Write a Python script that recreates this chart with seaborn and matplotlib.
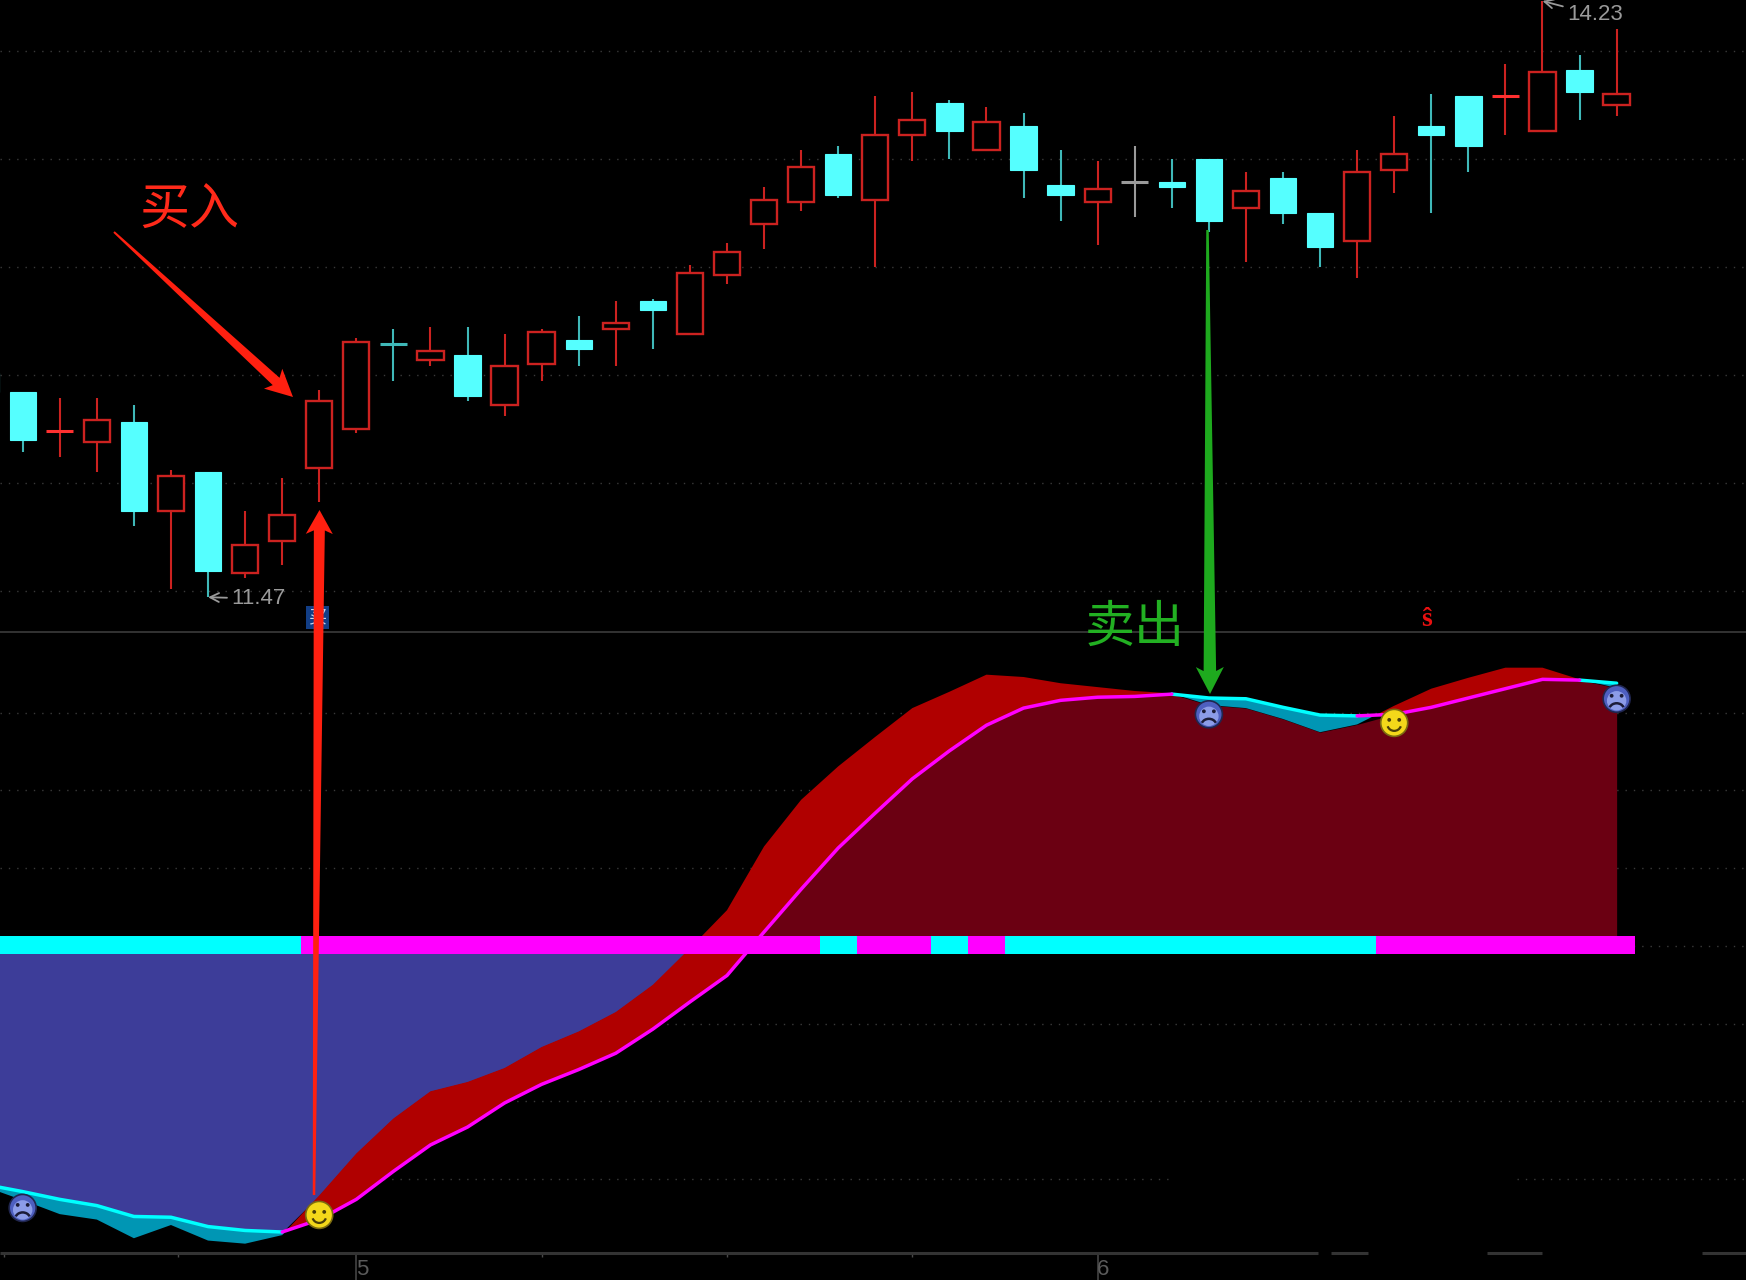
# candlestick chart with a two line indicator panel underneath, black trading software look

import numpy as np
import pandas as pd
import matplotlib
matplotlib.use("Agg")
import matplotlib.pyplot as plt
from matplotlib.patches import Circle, Polygon, Arc
import seaborn as sns

# price data, first candle is the one cut off by the left edge
days = np.arange(-1, 44)
open_p = [12.51, 12.42, 12.24, 12.19, 12.28, 11.87, 12.05, 11.58, 11.73, 12.07, 12.25, 12.64, 12.57, 12.59, 12.36,
          12.55, 12.66, 12.71, 12.84, 12.69, 12.96, 13.20, 13.30, 13.52, 13.31, 13.61, 13.76, 13.54, 13.65, 13.38,
          13.30, 13.39, 13.39, 13.50, 13.27, 13.41, 13.25, 13.12, 13.45, 13.65, 13.79, 13.79, 13.63, 13.91, 13.75]
close_p = [12.42, 12.20, 12.24, 12.29, 11.87, 12.03, 11.59, 11.71, 11.85, 12.38, 12.65, 12.64, 12.61, 12.40, 12.54,
           12.70, 12.62, 12.74, 12.80, 12.97, 13.07, 13.31, 13.46, 13.33, 13.61, 13.68, 13.63, 13.67, 13.45, 13.33,
           13.36, 13.39, 13.37, 13.21, 13.35, 13.25, 13.09, 13.44, 13.52, 13.61, 13.56, 13.79, 13.90, 13.81, 13.80]
high_p = [12.51, 12.42, 12.39, 12.39, 12.36, 12.06, 12.05, 11.87, 12.02, 12.43, 12.67, 12.71, 12.72, 12.72, 12.69,
          12.71, 12.77, 12.84, 12.85, 13.01, 13.11, 13.37, 13.54, 13.56, 13.79, 13.81, 13.77, 13.74, 13.71, 13.54,
          13.49, 13.56, 13.50, 13.50, 13.44, 13.44, 13.25, 13.54, 13.70, 13.80, 13.79, 13.94, 14.23, 13.98, 14.10]
low_p = [12.42, 12.14, 12.12, 12.05, 11.80, 11.51, 11.47, 11.56, 11.62, 11.91, 12.23, 12.47, 12.54, 12.38, 12.31,
         12.47, 12.54, 12.54, 12.62, 12.69, 12.92, 13.08, 13.26, 13.32, 13.00, 13.49, 13.50, 13.54, 13.32, 13.21,
         13.10, 13.23, 13.27, 13.16, 13.02, 13.20, 13.00, 12.95, 13.34, 13.25, 13.44, 13.61, 13.63, 13.68, 13.70]
doji_colors = {1: "red", 10: "cyan", 30: "gray", 40: "red"}
price_grid = [11.5, 12.0, 12.5, 13.0, 13.5, 14.0]

# indicator data
fast_line = [-31.0, -32.7, -34.5, -35.2, -37.6, -35.9, -37.9, -38.3, -37.2, -32.1, -26.7, -22.2, -18.7, -17.5, -15.7,
             -13.0, -11.0, -8.5, -5.0, -0.3, 4.6, 12.8, 18.8, 23.1, 26.9, 30.6, 32.7, 34.9, 34.6, 33.8,
             33.3, 32.8, 32.5, 31.0, 30.6, 29.2, 27.5, 28.5, 30.9, 33.1, 34.5, 35.8, 35.8, 34.3, 33.2]
slow_line = [-30.7, -31.6, -32.6, -33.4, -34.8, -34.9, -36.1, -36.6, -36.8, -35.2, -32.6, -29.0, -25.6, -23.3, -20.2,
             -17.8, -15.9, -13.8, -10.7, -7.2, -3.8, 1.8, 7.3, 12.6, 17.1, 21.5, 25.1, 28.4, 30.6, 31.6,
             32.0, 32.1, 32.4, 31.9, 31.8, 30.7, 29.7, 29.6, 29.8, 30.7, 31.9, 33.1, 34.3, 34.2, 33.8]
indicator_grid = [-30, -20, -10, 0, 10, 20, 30]
strip_states = ("c" * 9) + ("m" * 14) + "c" + "mm" + "c" + "m" + ("c" * 10) + ("m" * 7)
sad_days = [0, 32, 43]
sad_values = [-33.7, 29.8, 31.8]
happy_days = [8, 37]
happy_values = [-34.6, 28.7]

# x axis
minor_ticks = [-0.5, 4.2, 14, 19, 24]
major_ticks = [9, 29]
major_labels = ["5", "6"]

# colours
BG = "#000000"
CANDLE_RED = "#CC2220"
CANDLE_CYAN = "#55FFFF"
WICK_CYAN = "#3FB8B8"
GRAY = "#9A9A9A"
GRID = "#3A3A3A"
RULE = "#333333"
ARROW_RED = "#FF2010"
ARROW_GREEN = "#1EAA1E"

sns.set_theme(style="dark", rc={"figure.facecolor": BG, "axes.facecolor": BG, "savefig.facecolor": BG})
plt.rcParams["font.family"] = ["Noto Sans CJK SC", "DejaVu Sans"]

W, H = 1746, 1280
split_y, axis_y = 632, 1253
fig = plt.figure(figsize=(W / 100, H / 100), dpi=100)
ax_price = fig.add_axes([0, (H - split_y) / H, 1, split_y / H])
ax_ind = fig.add_axes([0, (H - axis_y) / H, 1, (axis_y - split_y) / H])
over = fig.add_axes([0, 0, 1, 1], zorder=10)
over.set_xlim(0, W)
over.set_ylim(H, 0)
over.axis("off")
over.patch.set_alpha(0)

xlim = (-0.612, 46.49)
for ax in (ax_price, ax_ind):
    ax.set_xlim(xlim)
    ax.set_yticks([])
    for s in ax.spines.values():
        s.set_visible(False)
    ax.grid(False)

ax_price.set_ylim(11.309, 14.2347)
ax_ind.set_ylim(-39.5, 40.39)

dots = (0, (1, 5))
ax_price.hlines(price_grid, *xlim, color=GRID, lw=1, linestyles=[dots], zorder=1)

### candles
names = {"red": CANDLE_RED, "cyan": CANDLE_CYAN, "gray": GRAY}
for d, op, cl, hi, lo in zip(days, open_p, close_p, high_p, low_p):
    if cl > op:
        kind = "red"
    elif cl < op:
        kind = "cyan"
    else:
        kind = doji_colors[int(d)]
    wick = WICK_CYAN if kind == "cyan" else names[kind]
    ax_price.vlines(d, lo, hi, color=wick, lw=1.5, zorder=2)
    if kind == "red" and cl > op:
        ax_price.bar(d, cl - op, bottom=op, width=0.71, facecolor=BG, edgecolor=CANDLE_RED, linewidth=1.7, zorder=3)
    elif cl == op:
        ax_price.hlines(op, d - 0.37, d + 0.37, color=("#FF3030" if kind == "red" else wick), lw=2.2, zorder=3)
    else:
        ax_price.bar(d, cl - op, bottom=op, width=0.71, color=CANDLE_CYAN, edgecolor=CANDLE_CYAN, linewidth=0.8, zorder=3)

label_style = dict(color=GRAY, fontsize=16, family="Liberation Sans", va="center", ha="left",
                   arrowprops=dict(arrowstyle="->", color=GRAY, lw=1.3, shrinkA=1, shrinkB=0))
ax_price.annotate(f"{min(low_p):.2f}", xy=(5, min(low_p)), xytext=(17, -1), textcoords="offset points", **label_style)
ax_price.annotate(f"{max(high_p):.2f}", xy=(41, max(high_p)), xytext=(18, -10), textcoords="offset points",
                  annotation_clip=False, **label_style)

### indicator panel
a = np.array(fast_line)
b = np.array(slow_line)
x = days.astype(float)

ax_ind.hlines([v for v in indicator_grid if v != -30], *xlim, color=GRID, lw=1, linestyles=[dots], zorder=1)
ax_ind.hlines([-30, -30], [xlim[0], 40.3], [30.9, xlim[1]], color=GRID, lw=1, linestyles=[dots], zorder=1)

upper = np.maximum(a, b)
lower = np.minimum(a, b)
ax_ind.fill_between(x, upper, 0, where=upper < 0, interpolate=True, color="#3D3D99", lw=0, zorder=2)
ax_ind.fill_between(x, lower, 0, where=lower > 0, interpolate=True, color="#6B0012", lw=0, zorder=2)
ax_ind.fill_between(x, a, b, where=a >= b, interpolate=True, color="#B00000", lw=0, zorder=2.5)
ax_ind.fill_between(x, a, b, where=a <= b, interpolate=True, color="#0096B4", lw=0, zorder=2.5)

# slow line changes colour with the trend, one unit per run
rows = []
state = a >= b
run = 0
for i in range(len(x)):
    if i > 0 and state[i] != state[i - 1]:
        run += 1
        rows.append({"day": x[i - 1], "value": b[i - 1], "trend": "up" if state[i] else "down", "run": run})
    rows.append({"day": x[i], "value": b[i], "trend": "up" if state[i] else "down", "run": run})
line_df = pd.DataFrame(rows)
sns.lineplot(data=line_df, x="day", y="value", hue="trend", units="run", estimator=None, sort=False,
             palette={"up": "#FF00FF", "down": "#00FFFF"}, linewidth=2.5, legend=False, ax=ax_ind, zorder=3)
ax_ind.set_xlabel("")
ax_ind.set_ylabel("")
ax_ind.set_xlim(xlim)
ax_ind.set_ylim(-39.5, 40.39)

# trend strip on the zero line
strip_colors = ["#00FFFF" if s == "c" else "#FF00FF" for s in strip_states]
ax_ind.bar(days, 1.26 + 1.06, bottom=-1.06, width=1.0, color=strip_colors, linewidth=0, antialiased=False, zorder=4)

### bottom axis, the line breaks up on the right of the original
bottom = -39.5
ax_ind.hlines([bottom] * 4, [xlim[0], 35.3, 39.5, 45.3], [34.95, 36.3, 41.0, xlim[1]], color=RULE, lw=2.2,
              zorder=5, clip_on=False)
ax_ind.set_xticks(minor_ticks + major_ticks)
ax_ind.set_xticklabels([])
ax_ind.tick_params(axis="x", bottom=False)
ax_ind.vlines(minor_ticks, bottom, bottom - 0.5, color="#4A4A4A", lw=1, clip_on=False)
ax_ind.vlines(major_ticks, bottom, bottom - 3.5, color="#3A3A3A", lw=1.4, clip_on=False)
for d, lab in zip(major_ticks, major_labels):
    ax_ind.text(d - 0.01, bottom - 0.75, lab, color="#5A5A5A", fontsize=16, family="Liberation Sans",
                va="top", ha="left", clip_on=False)

# panel separator
over.hlines(split_y, 0, W, color=RULE, lw=1.4)


### hand drawn arrows and labels sit in pixel coordinates on the overlay
def taper_arrow(x0, y0, x1, y1, w0, w1, head_w, head_len, color):
    d = np.array([x1 - x0, y1 - y0], dtype=float)
    d = d / np.hypot(*d)
    n = np.array([-d[1], d[0]])
    tail = np.array([x0, y0], dtype=float)
    tip = np.array([x1, y1], dtype=float)
    neck = tip - d * head_len * 0.85
    back = tip - d * head_len
    pts = [tail + n * w0 / 2, neck + n * w1 / 2, back + n * head_w / 2, tip,
           back - n * head_w / 2, neck - n * w1 / 2, tail - n * w0 / 2]
    over.add_patch(Polygon(pts, closed=True, facecolor=color, edgecolor="none", zorder=6))


# small mark under the price pane, mostly hidden by the red arrow
over.text(317.5, 617.5, "买", color="#C8D8F0", fontsize=13, ha="center", va="center",
          bbox=dict(boxstyle="square,pad=0.12", fc="#123E86", ec="none"), zorder=5)
over.text(1427, 620, "ŝ", color="#E81010", fontsize=20, family="Liberation Serif", fontweight="bold",
          ha="center", va="center", zorder=5)

taper_arrow(114, 232, 293, 397, 2, 10, 27, 27, ARROW_RED)
taper_arrow(314, 1195, 319.5, 510, 2.5, 11, 27, 24, ARROW_RED)
taper_arrow(1207.5, 230, 1210, 694, 2.5, 12.5, 28, 27, ARROW_GREEN)
over.text(189.5, 211, "买入", color="#FF2A1A", fontsize=36, ha="center", va="center", zorder=6)
over.text(1135, 628, "卖出", color="#22B022", fontsize=36, ha="center", va="center", zorder=6)


def to_pixels(d, v):
    px, py = ax_ind.transData.transform((d, v))
    return px, H - py


def smiley(cx, cy, happy):
    r = 13.5
    if happy:
        over.add_patch(Circle((cx, cy), r, facecolor="#F3D81A", edgecolor="#7A6A10", lw=1.2, zorder=7))
        mark = "#4A3F08"
        over.add_patch(Arc((cx, cy + 1), 14, 14, theta1=20, theta2=160, color=mark, lw=1.6, zorder=8))
    else:
        over.add_patch(Circle((cx, cy), r, facecolor="#4E5FC0", edgecolor="#20264F", lw=1.2, zorder=7))
        over.add_patch(Circle((cx, cy + 2), r * 0.72, facecolor="#8C9CE8", edgecolor="none", zorder=7))
        mark = "#1C1C38"
        over.add_patch(Arc((cx, cy + 11), 15, 13, theta1=200, theta2=340, color=mark, lw=1.8, zorder=8))
    over.add_patch(Circle((cx - 5, cy - 3), 1.9, facecolor=mark, edgecolor="none", zorder=8))
    over.add_patch(Circle((cx + 5, cy - 3), 1.9, facecolor=mark, edgecolor="none", zorder=8))


for d, v in zip(sad_days, sad_values):
    smiley(*to_pixels(d, v), happy=False)
for d, v in zip(happy_days, happy_values):
    smiley(*to_pixels(d, v), happy=True)

fig.savefig("out.png", dpi=100, facecolor=BG)
